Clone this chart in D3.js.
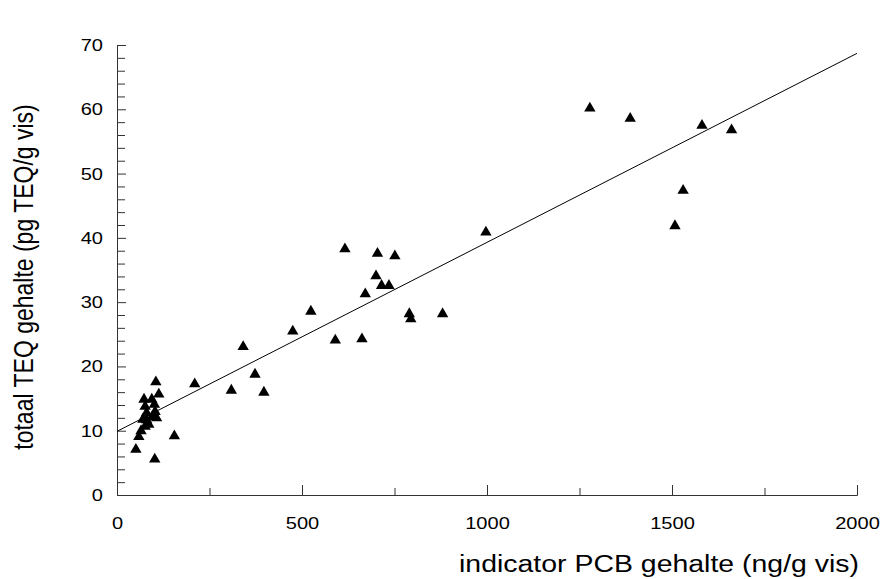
<!DOCTYPE html>
<html>
<head>
<meta charset="utf-8">
<script src="https://cdn.jsdelivr.net/npm/d3@7"></script>
<style>
  body { margin: 0; background: #fff; }
  svg { display: block; }
</style>
</head>
<body>
<svg id="chart"></svg>
<script>
// indicator PCB (ng/g vis) vs totaal TEQ (pg TEQ/g vis)
const pcb = [
  51, 102, 155, 59, 65, 76, 80, 70, 86, 95, 76, 80, 107, 103, 101, 73, 94, 113, 105,
  210, 309, 397, 373, 341, 475, 524, 590, 662,
  616, 704, 751, 700, 715, 735, 671, 790, 794, 880, 997,
  1278, 1387, 1581, 1661, 1530, 1508
]
const teq = [
  7.3, 5.8, 9.4, 9.3, 10.2, 10.9, 11.9, 12.0, 11.2, 12.4, 14.0, 13.0, 12.2, 13.2, 14.3, 15.1, 15.1, 15.9, 17.8,
  17.5, 16.5, 16.2, 19.0, 23.3, 25.7, 28.8, 24.3, 24.5,
  38.5, 37.8, 37.4, 34.3, 32.8, 32.8, 31.5, 28.4, 27.6, 28.4, 41.1,
  60.4, 58.8, 57.7, 57.0, 47.6, 42.1
]
// regression line end points
const fitX = [0, 2000]
const fitY = [9.9, 68.7]

const xMajor = [0, 500, 1000, 1500, 2000]
const xMinor = [250, 750, 1250, 1750]
const yMajor = [0, 10, 20, 30, 40, 50, 60, 70]
const yMinor = d3.range(2, 70, 2).filter(v => v % 10 !== 0)

const xTitle = "indicator PCB gehalte (ng/g vis)"
const yTitle = "totaal TEQ gehalte (pg TEQ/g vis)"

const width = 882
const height = 579
const margin = { top: 45, right: 25, bottom: 84, left: 117 }
const fontFamily = "Arial, 'Liberation Sans', sans-serif"
const stretch = 1.18   // the original picture is a bit wider than tall

const svg = d3.select("#chart").attr("width", width).attr("height", height)
const g = svg.append("g").attr("transform", `translate(${margin.left},${margin.top})`)

const plotW = width - margin.left - margin.right
const plotH = height - margin.top - margin.bottom

const x = d3.scaleLinear().domain([0, 2000]).range([0, plotW])
const y = d3.scaleLinear().domain([0, 70]).range([plotH, 0])

// minor ticks first, no labels
g.append("g")
  .attr("transform", `translate(0,${plotH})`)
  .call(d3.axisBottom(x).tickValues(xMinor).tickSize(-7).tickSizeOuter(0).tickFormat(""))
g.append("g")
  .call(d3.axisLeft(y).tickValues(yMinor).tickSize(-8).tickSizeOuter(0).tickFormat(""))

const xAxis = g.append("g")
  .attr("class", "x-axis")
  .attr("transform", `translate(0,${plotH})`)
  .call(d3.axisBottom(x).tickValues(xMajor).tickSize(-10).tickSizeOuter(0)
    .tickPadding(22).tickFormat(d3.format("d")))

const yAxis = g.append("g")
  .attr("class", "y-axis")
  .call(d3.axisLeft(y).tickValues(yMajor).tickSize(-9).tickSizeOuter(0)
    .tickPadding(14).tickFormat(d3.format("d")))

g.selectAll(".domain, .tick line").attr("stroke", "#333").attr("stroke-width", 1)

xAxis.selectAll("text")
  .style("font-family", fontFamily)
  .style("font-size", "17px")
  .attr("fill", "#000")
  .attr("transform", `scale(${stretch},1)`)

yAxis.selectAll("text")
  .style("font-family", fontFamily)
  .style("font-size", "17px")
  .attr("fill", "#000")
  .attr("x", -14 / stretch)
  .attr("transform", `scale(${stretch},1)`)

// regression line
const line = d3.line().x(d => x(d[0])).y(d => y(d[1]))
g.append("path")
  .datum(fitX.map((v, i) => [v, fitY[i]]))
  .attr("d", line)
  .attr("fill", "none")
  .attr("stroke", "#000")
  .attr("stroke-width", 1)

// triangles
const tri = d3.symbol().type(d3.symbolTriangle).size(56)
g.selectAll("path.pt")
  .data(pcb.map((v, i) => [v, teq[i]]))
  .enter()
  .append("path")
  .attr("class", "pt")
  .attr("d", tri)
  .attr("transform", d => `translate(${x(d[0])},${y(d[1]) + 1.5})`)
  .attr("fill", "#000")

// axis titles
svg.append("text")
  .attr("x", 859)
  .attr("y", 572)
  .attr("text-anchor", "end")
  .attr("textLength", 400)
  .attr("lengthAdjust", "spacingAndGlyphs")
  .style("font-family", fontFamily)
  .style("font-size", "23px")
  .text(xTitle)

svg.append("text")
  .attr("transform", `translate(33,277) scale(${stretch},1) rotate(-90)`)
  .attr("text-anchor", "middle")
  .style("font-family", fontFamily)
  .style("font-size", "23px")
  .text(yTitle)
</script>
</body>
</html>
